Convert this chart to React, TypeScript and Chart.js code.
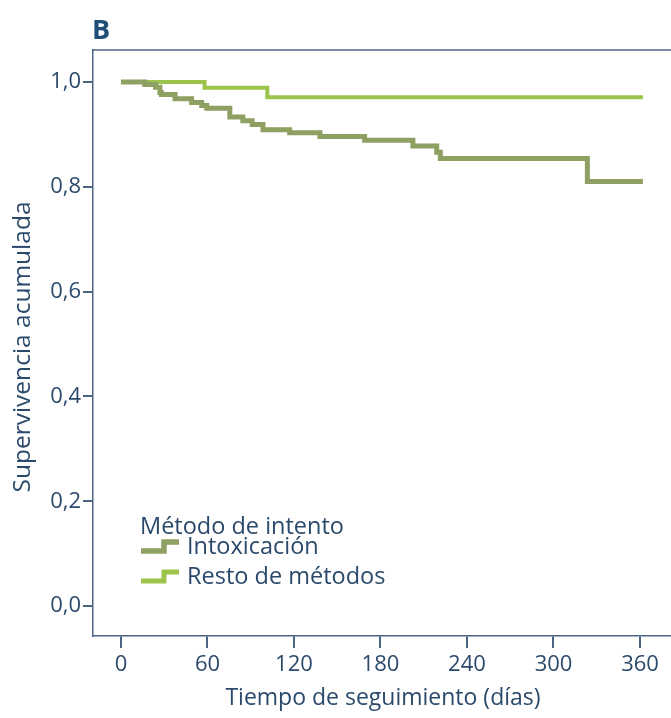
import React, { useEffect, useRef } from "react";
import { Chart, registerables } from "chart.js";

Chart.register(...registerables);

// ---- data ----
const panelLabel = "B";
const xTitle = "Tiempo de seguimiento (días)";
const yTitle = "Supervivencia acumulada";
const legendTitle = "Método de intento";
const seriesLabels = ["Intoxicación", "Resto de métodos"];

const xTicks = [0, 60, 120, 180, 240, 300, 360];
const yTicks = [0, 0.2, 0.4, 0.6, 0.8, 1.0];

const intoxTimes = [0, 16.5, 24, 27, 28, 37.5, 49, 56, 59.5, 75.5, 84.5, 91, 98.5, 117, 138, 169, 202.5, 219, 221.5, 323.5, 362];
const intoxSurv = [1.0, 0.995, 0.99, 0.98, 0.976, 0.968, 0.961, 0.955, 0.95, 0.933, 0.926, 0.919, 0.909, 0.903, 0.896, 0.889, 0.878, 0.866, 0.854, 0.81, 0.81];

const restoTimes = [0, 58, 101.5, 362];
const restoSurv = [1.0, 0.989, 0.971, 0.971];

// ---- styles ----
const FONT = "'Open Sans', 'Noto Sans', sans-serif";
const TEXT = "#2b4a6b";
const AXIS = "#4a6483";
const INTOX_COLOR = "#8fa063";
const RESTO_COLOR = "#9cc44b";

const toXY = (t: number[], s: number[]) => t.map((v, i) => ({ x: v, y: s[i] }));

const decor = {
  id: "decor",
  afterDraw(chart: any) {
    const { ctx, chartArea } = chart;
    ctx.save();
    // top border
    ctx.strokeStyle = AXIS;
    ctx.lineWidth = 1.5;
    ctx.beginPath();
    ctx.moveTo(chartArea.left, chartArea.top);
    ctx.lineTo(chartArea.right, chartArea.top);
    ctx.stroke();

    // panel label
    ctx.fillStyle = "#1f4e79";
    ctx.font = `bold 27px ${FONT}`;
    ctx.textAlign = "left";
    ctx.textBaseline = "alphabetic";
    ctx.fillText(panelLabel, 92, 39);

    // axis titles
    ctx.fillStyle = TEXT;
    ctx.textAlign = "center";
    ctx.textBaseline = "middle";
    ctx.font = `23px ${FONT}`;
    ctx.fillText(xTitle, 383, 698);
    ctx.save();
    ctx.translate(23, 347);
    ctx.rotate(-Math.PI / 2);
    ctx.font = `24.5px ${FONT}`;
    ctx.fillText(yTitle, 0, 0);
    ctx.restore();

    // legend
    ctx.textAlign = "left";
    ctx.font = `23.5px ${FONT}`;
    ctx.fillText(legendTitle, 140, 527);
    const items = [
      { label: seriesLabels[0], color: INTOX_COLOR, y: 547, w: 5.5 },
      { label: seriesLabels[1], color: RESTO_COLOR, y: 577, w: 5 },
    ];
    items.forEach((it) => {
      ctx.strokeStyle = it.color;
      ctx.lineWidth = it.w;
      ctx.lineJoin = "miter";
      ctx.lineCap = "butt";
      ctx.beginPath();
      ctx.moveTo(141, it.y + 4);
      ctx.lineTo(164, it.y + 4);
      ctx.lineTo(164, it.y - 5);
      ctx.lineTo(179, it.y - 5);
      ctx.stroke();
      ctx.fillStyle = TEXT;
      ctx.fillText(it.label, 187, it.y);
    });
    ctx.restore();
  },
};

export default function App() {
  const ref = useRef<HTMLCanvasElement | null>(null);
  useEffect(() => {
    if (!ref.current) return;
    const chart = new Chart(ref.current, {
      type: "line",
      data: {
        datasets: [
          {
            label: seriesLabels[0],
            data: toXY(intoxTimes, intoxSurv),
            borderColor: INTOX_COLOR,
            borderWidth: 5,
            stepped: "before",
            pointRadius: 0,
            fill: false,
            borderJoinStyle: "miter",
            borderCapStyle: "butt",
          },
          {
            label: seriesLabels[1],
            data: toXY(restoTimes, restoSurv),
            borderColor: RESTO_COLOR,
            borderWidth: 4,
            stepped: "before",
            pointRadius: 0,
            fill: false,
            borderJoinStyle: "miter",
            borderCapStyle: "butt",
          },
        ],
      },
      options: {
        animation: false,
        responsive: false,
        devicePixelRatio: 1,
        layout: { padding: { top: 50, right: 0, left: 0, bottom: 0 } },
        plugins: { legend: { display: false }, tooltip: { enabled: false } },
        scales: {
          x: {
            type: "linear",
            min: -19.4,
            max: 381.5,
            afterBuildTicks: (s: any) => {
              s.ticks = xTicks.map((v) => ({ value: v }));
            },
            afterFit: (s: any) => {
              s.height = 82;
            },
            grid: { drawOnChartArea: false, drawTicks: true, tickLength: 12, color: AXIS, lineWidth: 2 },
            border: { display: true, color: AXIS, width: 1.5 },
            ticks: {
              color: TEXT,
              font: { family: FONT, size: 22 },
              padding: 4,
              maxRotation: 0,
              autoSkip: false,
              callback: (v: any) => String(v),
            },
          },
          y: {
            type: "linear",
            min: -0.057,
            max: 1.061,
            afterBuildTicks: (s: any) => {
              s.ticks = yTicks.map((v) => ({ value: v }));
            },
            afterFit: (s: any) => {
              s.width = 93;
            },
            grid: { drawOnChartArea: false, drawTicks: true, tickLength: 10, color: AXIS, lineWidth: 2 },
            border: { display: true, color: AXIS, width: 1.5 },
            ticks: {
              color: TEXT,
              font: { family: FONT, size: 22 },
              padding: 2,
              autoSkip: false,
              callback: (v: any) => Number(v).toFixed(1).replace(".", ","),
            },
          },
        },
      },
      plugins: [decor],
    });
    return () => chart.destroy();
  }, []);

  return (
    <div style={{ position: "absolute", left: 0, top: 0, width: 671, height: 718, background: "#fff" }}>
      <canvas ref={ref} width={671} height={718} style={{ display: "block" }} />
    </div>
  );
}
